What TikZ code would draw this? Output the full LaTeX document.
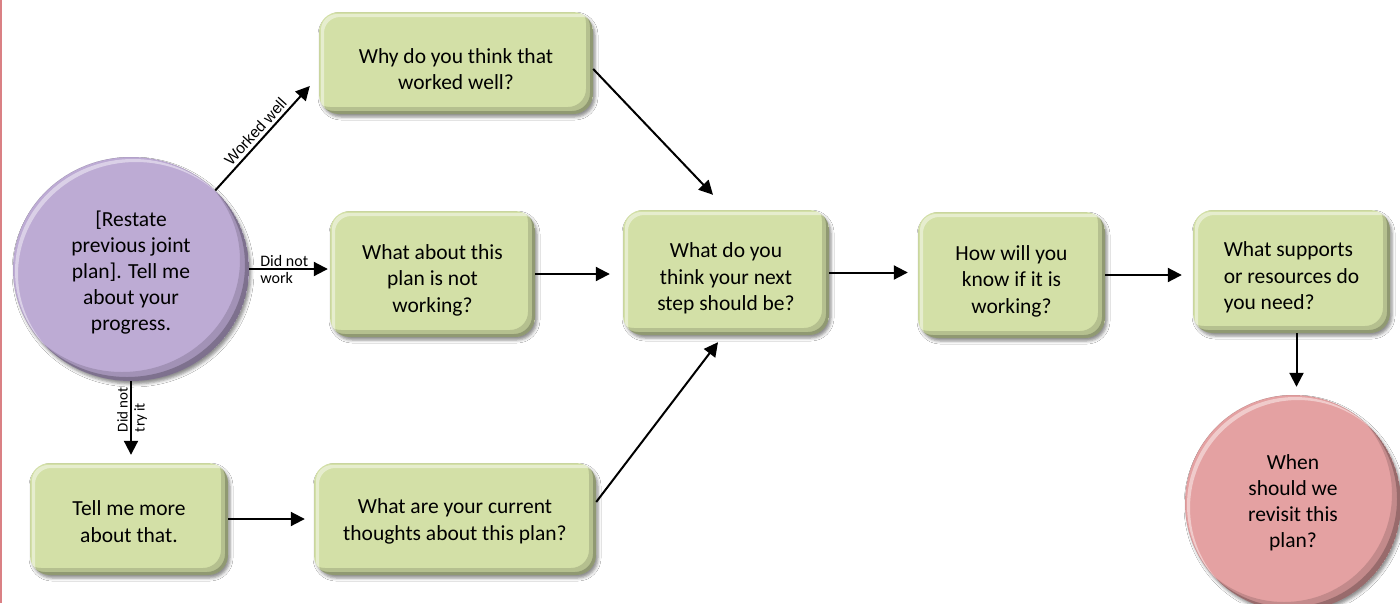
\documentclass[tikz,border=0pt]{standalone}
\usepackage{fontspec}
\setmainfont{Carlito}
\newfontfamily\arialf{Liberation Sans}
\usetikzlibrary{arrows.meta,shapes.geometric,shadows.blur}
\definecolor{boxgreen}{RGB}{211,224,167}
\definecolor{circpurple}{RGB}{189,171,212}
\definecolor{circpink}{RGB}{228,161,162}
\definecolor{leftred}{RGB}{218,128,132}
\newcommand\tu{\rule{0pt}{27pt}}
\newcommand\tv{\rule{0pt}{20pt}}
\tikzset{
  bev/.style={
    path picture={
      \fill[black,opacity=.14,even odd rule,rounded corners=18pt]
        (path picture bounding box.south west) rectangle (path picture bounding box.north east)
        ([shift={(-7pt,7pt)}]path picture bounding box.south west) rectangle ([shift={(-7pt,7pt)}]path picture bounding box.north east);
      \fill[black,opacity=.20,even odd rule,rounded corners=18pt]
        (path picture bounding box.south west) rectangle (path picture bounding box.north east)
        ([shift={(-3pt,3pt)}]path picture bounding box.south west) rectangle ([shift={(-3pt,3pt)}]path picture bounding box.north east);
      \fill[white,opacity=.45,even odd rule,rounded corners=16pt]
        ([shift={(2pt,-2pt)}]path picture bounding box.south west) rectangle ([shift={(2pt,-2pt)}]path picture bounding box.north east)
        ([shift={(5pt,-5pt)}]path picture bounding box.south west) rectangle ([shift={(5pt,-5pt)}]path picture bounding box.north east);
    }
  },
  cbev/.style 2 args={
    path picture={
      \fill[black,opacity=.14,even odd rule]
        (path picture bounding box.center) ellipse[x radius=#1,y radius=#2]
        ([shift={(-9pt,9pt)}]path picture bounding box.center) ellipse[x radius=#1,y radius=#2];
      \fill[black,opacity=.22,even odd rule]
        (path picture bounding box.center) ellipse[x radius=#1,y radius=#2]
        ([shift={(-4pt,4pt)}]path picture bounding box.center) ellipse[x radius=#1,y radius=#2];
      \fill[white,opacity=.45,even odd rule]
        ([shift={(2pt,-2pt)}]path picture bounding box.center) ellipse[x radius=#1,y radius=#2]
        ([shift={(5pt,-5pt)}]path picture bounding box.center) ellipse[x radius=#1,y radius=#2];
    }
  },
  softshadow/.style={blur shadow={shadow xshift=2pt,shadow yshift=-3pt,shadow blur radius=3pt,shadow opacity=45}},
  qbox/.style={rectangle, rounded corners=20pt, fill=boxgreen, bev, softshadow,
    align=center, font=\fontsize{21.5}{26.5}\selectfont, inner sep=4pt},
  qcirc/.style={ellipse, inner sep=0pt, softshadow, align=center,
    font=\fontsize{21.5}{26}\selectfont},
  arr/.style={-{Triangle[length=14pt,width=14pt]}, line width=2pt},
  lab/.style={font=\fontsize{16}{18}\selectfont, inner sep=1pt},
}
\begin{document}
\begin{tikzpicture}[x=1pt,y=-1pt]
\useasboundingbox (0,0) rectangle (1400,603);
\fill[white] (0,0) rectangle (1400,603);
\draw[leftred, line width=2pt] (1,0) -- (1,603);

\node[qcirc, fill=circpurple, cbev={118pt}{112pt}, minimum width=236pt, minimum height=224pt] (P) at (131,269)
  {\rule{0pt}{22pt}[Restate\\previous joint\\plan]. Tell me\\about your\\progress.};
\node[qbox, minimum width=274pt, minimum height=102pt] (B1) at (456,63) {\tu Why do you think that\\worked well?};
\node[qbox, minimum width=205pt, minimum height=126pt] (B2) at (432.5,274) {\tu What about this\\plan is not\\working?};
\node[qbox, minimum width=206pt, minimum height=125pt] (B3) at (726,272.5) {\tu What do you\\think your next\\step should be?};
\node[qbox, minimum width=187pt, minimum height=126pt] (B4) at (1011.5,275) {\tu How will you\\know if it is\\working?};
\node[qbox, minimum width=197pt, minimum height=123pt, align=left] (B5) at (1291.5,271.5) {\tu What supports\\or resources do\\you need?};
\node[qbox, minimum width=198pt, minimum height=112pt] (B6) at (129,519) {\tv Tell me more\\about that.};
\node[qbox, minimum width=282pt, minimum height=112pt] (B7) at (455,519) {\tv What are your current\\thoughts about this plan?};
\node[qcirc, fill=circpink, cbev={108pt}{108pt}, minimum width=216pt, minimum height=216pt] (C2) at (1293,503)
  {When\\should we\\revisit this\\plan?};

% connectors
\draw[arr] (P.43) -- node[midway, above, sloped, font=\arialf\fontsize{15.5}{17}\selectfont, inner sep=3pt] {Worked well} ([shift={(-9pt,-23pt)}]B1.west);
\draw[arr, shorten >=2pt] (P.east) -- (B2.west |- P.east);
\node[lab, anchor=south west] (l1) at ([shift={(10pt,1pt)}]P.east) {Did not};
\node[lab, anchor=north west] (l2) at ([shift={(10pt,-2pt)}]P.east) {work};
\draw[arr, shorten >=8pt] (P.south) -- (P.south |- B6.north);
\node[lab, rotate=90, anchor=south west, font=\fontsize{15}{17}\selectfont] (l3) at ([shift={(-2pt,-52pt)}]P.south) {Did not};
\node[lab, rotate=90, anchor=north west, font=\fontsize{15}{17}\selectfont] (l4) at ([shift={(2pt,-52pt)}]P.south) {try it};
\draw[arr] ([yshift=-6pt]B1.east) -- ([shift={(-13pt,15pt)}]B3.north);
\draw[arr, shorten >=13pt] (B2.east) -- (B2.east -| B3.west);
\draw[arr] ([yshift=17pt]B7.east) -- ([shift={(-8pt,-7pt)}]B3.south);
\draw[arr, shorten >=10pt] (B3.east) -- (B3.east -| B4.west);
\draw[arr, shorten >=11pt] (B4.east) -- (B4.east -| B5.west);
\draw[arr, shorten >=8pt] ([xshift=5pt]B5.south) -- ([xshift=5pt]B5.south |- C2.north);
\draw[arr, shorten >=9pt] (B6.east) -- (B6.east -| B7.west);
\end{tikzpicture}
\end{document}
